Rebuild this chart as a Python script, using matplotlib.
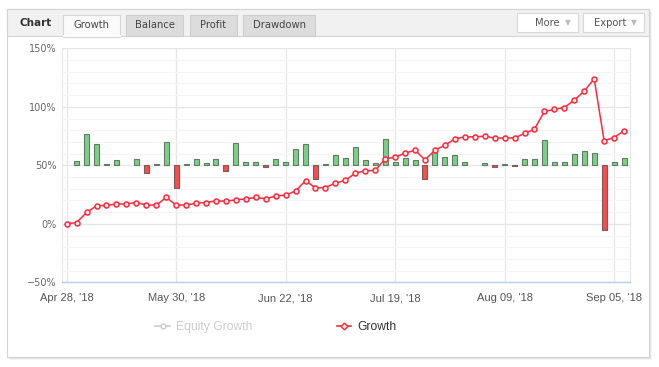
import matplotlib
matplotlib.use("Agg")
import matplotlib.pyplot as plt
from matplotlib.patches import Rectangle
from matplotlib.lines import Line2D
import numpy as np

# ---- data ----
growth = [0, 1.1, 9.7, 15.4, 15.7, 16.9, 16.9, 18.2, 16.0, 16.0,
          22.5, 16.0, 16.0, 17.6, 18.2, 19.6, 19.3, 20.5, 21.3, 22.5,
          21.4, 23.7, 24.5, 28.1, 36.8, 30.7, 31.0, 34.8, 37.1, 43.3,
          45.3, 45.6, 55.5, 57.0, 60.4, 62.9, 54.7, 62.9, 67.2, 72.6,
          74.3, 74.3, 74.9, 73.2, 73.4, 73.4, 77.2, 80.9, 96.0, 97.7,
          99.4, 105.7, 113.4, 123.9, 71.0, 73.7, 79.5]
bars = [None, 3.7, 27.0, 18.4, 1.1, 4.6, None, 5.5, -6.6, 1.1,
        20.1, -19.5, 1.1, 5.5, 2.0, 5.5, -4.9, 19.3, 2.9, 2.9,
        -1.4, 5.5, 2.9, 14.1, 18.4, -11.8, 1.1, 8.9, 6.3, 15.8,
        4.6, 2.0, 22.7, 2.9, 6.3, 4.6, -11.8, 11.5, 7.2, 8.9,
        2.9, None, 2.0, -1.4, 1.1, -0.9, 5.5, 5.5, 21.8, 2.9,
        2.9, 9.8, 12.4, 10.6, -54.9, 2.9, 6.3]
bar_base = 50
tick_labels = ["Apr 28, '18", "May 30, '18", "Jun 22, '18",
               "Jul 19, '18", "Aug 09, '18", "Sep 05, '18"]
tick_every = 11
y_ticks = [-50, 0, 50, 100, 150]
y_labels = ["\u221250%", "0%", "50%", "100%", "150%"]
tabs = ["Growth", "Balance", "Profit", "Drawdown"]
legend_labels = ["Equity Growth", "Growth"]

W, H = 659, 367
fig = plt.figure(figsize=(W / 100, H / 100), dpi=100)
fig.patch.set_facecolor("white")

# ---- background / panel axes (pixel coords) ----
bg = fig.add_axes([0, 0, 1, 1], zorder=0)
bg.set_xlim(0, W)
bg.set_ylim(H, 0)
bg.axis("off")

# shadow
for i, a in enumerate([0.10, 0.07, 0.04]):
    bg.add_patch(Rectangle((7 + i + 1, 9 + i + 1), 642, 348, facecolor="#000000",
                           alpha=a, edgecolor="none"))
# panel
bg.add_patch(Rectangle((7, 9), 642, 348, facecolor="white", edgecolor="#d4d4d4", lw=0.8))
# header
bg.add_patch(Rectangle((7, 9), 642, 27, facecolor="#f1f1f1", edgecolor="#d4d4d4", lw=0.8))
bg.text(19, 23.5, "Chart", fontsize=7.5, fontweight="bold", color="#333333",
        va="center", ha="left", family="DejaVu Sans")
tab_x = [(63, 120), (126, 183), (190, 237), (243, 315)]
for i, (lab, (x0, x1)) in enumerate(zip(tabs, tab_x)):
    if i == 0:
        bg.add_patch(Rectangle((x0, 15), x1 - x0, 22, facecolor="#fafafa",
                               edgecolor="#d6d6d6", lw=0.8))
        bg.plot([x0 + 0.5, x1 - 0.5], [36.3, 36.3], color="#fafafa", lw=1.5)
    else:
        bg.add_patch(Rectangle((x0, 15), x1 - x0, 21, facecolor="#dcdcdc",
                               edgecolor="#cecece", lw=0.8))
    bg.text((x0 + x1) / 2, 25.5, lab, fontsize=7.2, color="#444444",
            ha="center", va="center", family="DejaVu Sans")
for lab, (x0, x1) in [("More", (517, 578)), ("Export", (583, 644))]:
    bg.add_patch(Rectangle((x0, 13), x1 - x0, 19, facecolor="white",
                           edgecolor="#d8d8d8", lw=0.8))
    bg.text(x1 - 18, 22.5, lab, fontsize=7.2, color="#555555",
            ha="right", va="center", family="DejaVu Sans")
    bg.text(x1 - 10, 22.5, "\u25bc", fontsize=5.5, color="#bbbbbb",
            ha="center", va="center", family="DejaVu Sans")

# ---- main plot axes ----
left, right, top, bottom = 62, 630, 48.3, 282.3
ax = fig.add_axes([left / W, 1 - bottom / H, (right - left) / W, (bottom - top) / H],
                  zorder=1)
ax.set_facecolor("none")
n = len(growth)
x = np.arange(n)
ax.set_xlim(-0.47, n - 1 + 0.6)
ax.set_ylim(-50, 150)

# grid
ax.set_yticks(y_ticks)
ax.set_yticks(np.arange(-50, 151, 10), minor=True)
ax.set_yticklabels(y_labels)
ticks = list(range(0, n, tick_every))[:len(tick_labels)]
ax.set_xticks(ticks)
ax.set_xticklabels(tick_labels)
ax.grid(True, which="major", axis="both", color="#e6e6e6", lw=0.9, zorder=0)
ax.grid(True, which="minor", axis="y", color="#f4f4f4", lw=0.8, zorder=0)
ax.set_axisbelow(True)
ax.tick_params(axis="both", which="both", length=0)
ax.tick_params(axis="y", labelsize=7, labelcolor="#666666", pad=4)
ax.tick_params(axis="x", labelsize=8, labelcolor="#555555", pad=8)
for lab in ax.get_xticklabels():
    lab.set_family("Liberation Sans")
for lab in ax.get_yticklabels():
    lab.set_family("DejaVu Sans")
ax.spines["top"].set_visible(False)
ax.spines["left"].set_color("#e6e6e6")
ax.spines["right"].set_color("#e6e6e6")
ax.spines["bottom"].set_color("#b8cfe3")
ax.spines["bottom"].set_linewidth(1.0)

# bars
for xi, b in zip(x, bars):
    if b is None:
        continue
    if b >= 0:
        ax.bar(xi, b, bottom=bar_base, width=0.5, color="#7dcf87",
               edgecolor="#5f7d66", lw=0.8, zorder=2)
    else:
        ax.bar(xi, b, bottom=bar_base, width=0.5, color="#ff4b4b",
               edgecolor="#7d5a5a", lw=0.8, zorder=2)

# growth line
ax.plot(x, growth, color="#ff2a3c", lw=1.1, marker="o", markersize=3.6,
        markerfacecolor="#fff0f0", markeredgecolor="#ff2a3c", markeredgewidth=1.1,
        zorder=4)

# legend
handles = [
    Line2D([], [], color="#cccccc", lw=1.2, marker="o", markersize=3.5,
           markerfacecolor="white", markeredgecolor="#cccccc"),
    Line2D([], [], color="#ff2a3c", lw=1.2, marker="D", markersize=3.5,
           markerfacecolor="#ffe6e6", markeredgecolor="#ff2a3c"),
]
leg = fig.legend(handles, legend_labels, loc="center", bbox_to_anchor=(276 / W, 1 - 327 / H),
                 ncol=2, frameon=False, fontsize=8.7, handlelength=1.2,
                 handletextpad=0.5, columnspacing=7.0, prop={"family": "Liberation Sans", "size": 8.7})
txts = leg.get_texts()
txts[0].set_color("#cccccc")
txts[1].set_color("#333333")

fig.savefig("out.png", dpi=100, facecolor="white")
